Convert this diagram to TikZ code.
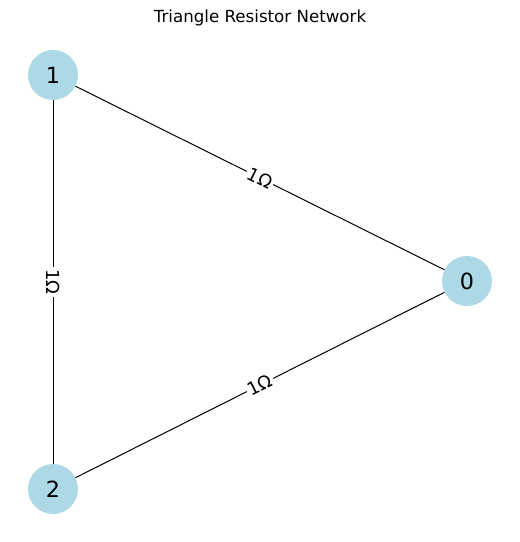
\documentclass[tikz,border=0pt]{standalone}
\usepackage{fontspec}
\setmainfont{DejaVu Sans}
\begin{document}
\begin{tikzpicture}[x=0.75pt,y=-0.75pt,
  vertex/.style={circle,fill=lightblue,minimum size=37.5pt,inner sep=0pt,font=\fontsize{16.7pt}{18pt}\selectfont},
  wire/.style={draw=black,line width=0.75pt},
  ohm/.style={fill=white,inner sep=1.5pt,font=\fontsize{13.5pt}{15pt}\selectfont}]
\definecolor{lightblue}{HTML}{ADD8E6}
\useasboundingbox (0,0) rectangle (519,542);
\node[font=\fontsize{12.5pt}{14pt}\selectfont] (title) at (260,18) {Triangle Resistor Network};
\node[vertex] (n1) at (53,75) {1};
\node[vertex] (n0) at (467,281) {0};
\node[vertex] (n2) at (53,489) {2};
\draw[wire] (n1) -- (n0) node[midway,ohm,sloped] {1Ω};
\draw[wire] (n2) -- (n0) node[midway,ohm,sloped] {1Ω};
\draw[wire] (n1) -- (n2) node[midway,ohm,rotate=-90] {1Ω};
\end{tikzpicture}
\end{document}
